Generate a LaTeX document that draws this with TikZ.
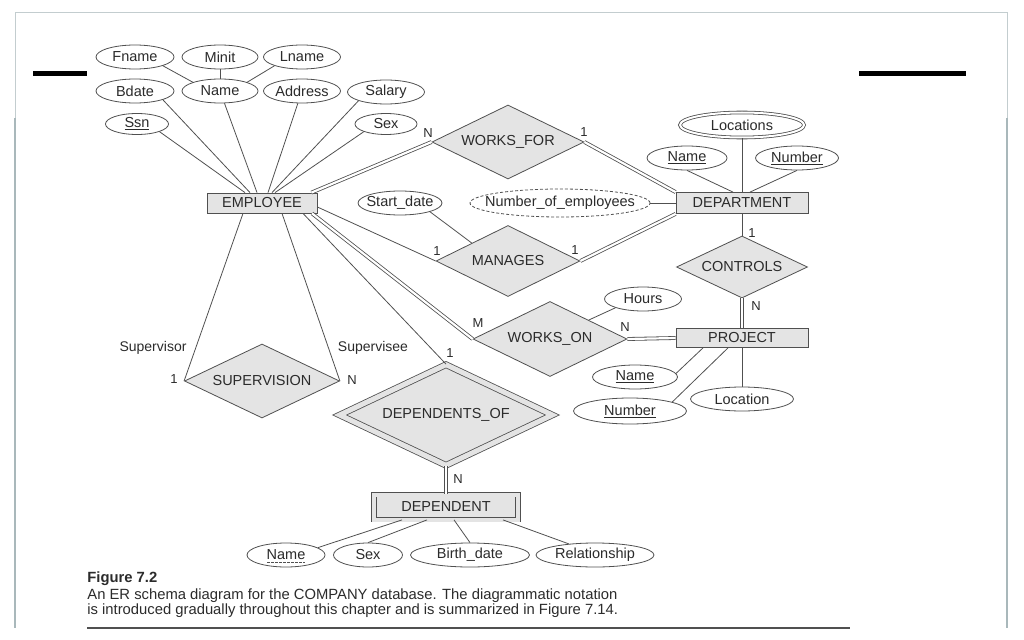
\documentclass[tikz,border=0pt]{standalone}
\usepackage{fontspec}
\setmainfont{Liberation Sans}
\usetikzlibrary{shapes.geometric}
\definecolor{linegray}{HTML}{505050}
\definecolor{boxgray}{HTML}{E4E4E4}
\definecolor{textgray}{HTML}{2B2B2B}
\definecolor{framegray}{HTML}{A9B8BB}

\begin{document}
\begin{tikzpicture}[x=1pt,y=-1pt,line width=0.8pt,
	every node/.style={text=textgray,font=\fontsize{14.5}{16}\selectfont},
	ent node/.style={rectangle,draw=linegray,fill=boxgray,inner sep=0pt,minimum height=20pt},
	rel node/.style={diamond,draw=linegray,fill=boxgray,aspect=2,inner sep=0pt},
	attr node/.style={ellipse,draw=linegray,fill=white,inner xsep=-4pt,inner ysep=0pt,minimum height=24pt},
	card/.style={font=\fontsize{13}{14}\selectfont},
	role/.style={font=\fontsize{14}{15}\selectfont},
	every edge/.style={draw=linegray},
	total/.style={double=white,double distance=2.2pt}]
	\useasboundingbox (0,0) rectangle (1024,639);
	\draw[framegray!70,line width=1pt] (15,118) -- (15,13) -- (1007,13) -- (1007,118);
	\draw[framegray,line width=1.8pt] (15,118) -- (15,628) (1007,118) -- (1007,628);
	\fill[black] (33,71) rectangle (87,76);
	\fill[black] (859,71) rectangle (966,76);

	\node[attr node,minimum width=78pt] (fname) at (135,57) {Fname};
	\node[attr node,minimum width=76pt] (minit) at (220,57) {Minit};
	\node[attr node,minimum width=77pt] (lname) at (302,57) {Lname};
	\node[attr node,minimum width=78pt] (bdate) at (135,91) {Bdate};
	\node[attr node,minimum width=76pt] (ename) at (220,91) {Name};
	\node[attr node,minimum width=77pt] (addr) at (302,91) {Address};
	\node[attr node,minimum width=77pt] (salary) at (386,92) {Salary};
	\node[attr node,minimum width=63pt,minimum height=21pt] (ssn) at (137,124) {\underline{Ssn}};
	\node[attr node,minimum width=62pt,minimum height=21pt] (esex) at (386,124) {Sex};
	\node[ent node,minimum width=110pt] (emp) at (262,203) {EMPLOYEE};

	\node[ent node,minimum width=132pt,minimum height=21pt] (dept) at (742,203) {DEPARTMENT};
	\node[attr node,double,double distance=2pt,minimum width=124pt,minimum height=25pt] (locs) at (742,125) {Locations};
	\node[attr node,minimum width=80pt] (dname) at (687,158) {\underline{Name}};
	\node[attr node,minimum width=83pt] (dnum) at (797,158) {\underline{Number}};
	\node[attr node,dash pattern=on 3pt off 2pt,minimum width=180pt,minimum height=28pt,inner xsep=-16pt] (nemp) at (560,203) {Number\_of\_employees};
	\node[attr node,minimum width=84pt] (sdate) at (400,203) {Start\_date};

	\node[rel node,minimum width=152pt,minimum height=74pt] (wfor) at (508,142) {WORKS\_FOR};
	\node[rel node,minimum width=144pt,minimum height=71pt] (mgr) at (508,261) {MANAGES};
	\node[rel node,minimum width=131pt,minimum height=62pt] (ctrl) at (742,267) {CONTROLS};
	\node[rel node,minimum width=154pt,minimum height=75pt] (won) at (550,339) {WORKS\_ON};
	\node[rel node,minimum width=155pt,minimum height=74pt] (supv) at (262,381) {SUPERVISION};
	\node[rel node,double=boxgray,double distance=5pt,minimum width=213pt,minimum height=101pt] (depof) at (446,415) {DEPENDENTS\_OF};

	\node[ent node,minimum width=132pt,minimum height=19pt] (proj) at (742,338) {PROJECT};
	\node[attr node,minimum width=77pt] (hours) at (643,299) {Hours};
	\node[attr node,minimum width=85pt] (pname) at (635,377) {\underline{Name}};
	\node[attr node,minimum width=113pt,minimum height=26pt] (pnum) at (630,411) {\underline{Number}};
	\node[attr node,minimum width=103pt] (ploc) at (742,399) {Location};

	\node[ent node,double=boxgray,double distance=4pt,minimum width=144pt,minimum height=25pt] (dep) at (446,507) {DEPENDENT};
	\node[attr node,minimum width=78pt] (kname) at (286,555) {Name};
	\node[attr node,minimum width=69pt] (ksex) at (368,555) {Sex};
	\node[attr node,minimum width=119pt] (kbirth) at (470,555) {Birth\_date};
	\node[attr node,minimum width=118pt] (krel) at (595,555) {Relationship};
	\draw[linegray,dash pattern=on 2.5pt off 1.5pt] ([xshift=-19pt,yshift=-7pt]kname.center) -- ([xshift=19pt,yshift=-7pt]kname.center);

	\path
		(fname.south east) edge (ename.north west)
		(minit) edge (ename)
		(lname.south west) edge (ename.north east)
		(ssn.south east) edge ([xshift=-17pt]emp.north)
		(bdate.south east) edge ([xshift=-12pt]emp.north)
		(ename) edge ([xshift=-5pt]emp.north)
		(addr) edge ([xshift=6pt]emp.north)
		(salary.south west) edge ([xshift=10pt]emp.north)
		(esex.south west) edge ([xshift=13pt]emp.north)
		([xshift=-6pt]emp.north east) edge [total] (wfor.west)
		(wfor.east) edge [total] (dept.north west)
		([yshift=-4pt]emp.east) edge (mgr.west)
		(mgr.east) edge [total] (dept.south west)
		(sdate.south east) edge (mgr.north west)
		(nemp) edge (dept)
		(locs) edge (dept)
		(dname.south) edge ([xshift=-9pt]dept.north)
		(dnum.south) edge ([xshift=8pt]dept.north)
		(dept) edge (ctrl)
		(ctrl) edge [total] (proj)
		([xshift=50pt]emp.south) edge [total] (won.west)
		(won.east) edge [total] (proj.west)
		(hours.south west) edge (won.north east)
		(pname.5) edge ([xshift=-39pt]proj.south)
		(pnum.12) edge ([xshift=-14pt]proj.south)
		(ploc) edge (proj)
		([xshift=-19pt]emp.south) edge (supv.west)
		([xshift=20pt]emp.south) edge (supv.east)
		([xshift=41pt]emp.south) edge (depof.north)
		(depof) edge [total] (dep)
		(kname.13) edge ([xshift=-44pt]dep.south)
		(ksex.north) edge ([xshift=-19pt]dep.south)
		(kbirth.north) edge ([xshift=8pt]dep.south)
		(krel.157) edge ([xshift=57pt]dep.south);

	\node[card] (c1) at (428,133) {N};
	\node[card] (c2) at (584,132) {1};
	\node[card] (c3) at (437,251) {1};
	\node[card] (c4) at (575,250) {1};
	\node[card] (c5) at (752,233) {1};
	\node[card] (c6) at (756,306) {N};
	\node[card] (c7) at (478,323) {M};
	\node[card] (c8) at (625,327) {N};
	\node[card] (c9) at (174,379) {1};
	\node[card] (c10) at (352,380) {N};
	\node[card] (c11) at (450,353) {1};
	\node[card] (c12) at (458,479) {N};
	\node[role] (r1) at (153,348) {Supervisor};
	\node[role] (r2) at (373,348) {Supervisee};

	\node[anchor=base west,inner sep=0pt,font=\bfseries\fontsize{14.8}{16}\selectfont] (figno) at (87,582) {Figure 7.2};
	\node[anchor=north west,align=left,inner sep=0pt,font=\fontsize{14.8}{15}\selectfont] (figtext) at (87,588) {An ER schema diagram for the COMPANY database. The diagrammatic notation\\is introduced gradually throughout this chapter and is summarized in Figure 7.14.};
	\draw[linegray,line width=1.2pt] (87,628) -- (850,628);
\end{tikzpicture}
\end{document}
